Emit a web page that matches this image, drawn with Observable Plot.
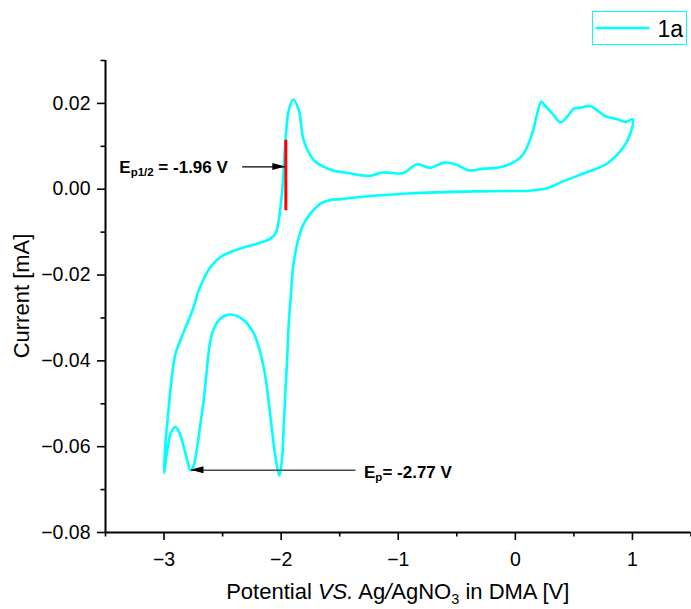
<!DOCTYPE html>
<html>
<head>
<meta charset="utf-8">
<script src="https://cdn.jsdelivr.net/npm/d3@7"></script>
<script src="https://cdn.jsdelivr.net/npm/@observablehq/plot@0.6"></script>
<style>
  body { margin: 0; background: #fff; font-family: "Liberation Sans", Arial, sans-serif; }
  #wrap { position: relative; width: 691px; height: 609px; }
  #legend { position: absolute; left: 591.5px; top: 11px; width: 95px; height: 34px;
            box-sizing: border-box; border: 1px solid #00ffff; background: #fff; }
  #legend svg { display: block; }
</style>
</head>
<body>
<div id="wrap"></div>
<script>
// Cyclic voltammogram of 1a: scan starts at 0 V, runs negative to -3 V,
// back positive to +1 V and returns to 0 V.
const potential = [
  0.01, -0.35, -0.92, -1.32, -1.49, -1.58, -1.66, -1.75, -1.82, -1.89,
  -1.92, -1.935, -1.948, -1.963, -1.977, -1.991, -2.014, -2.048, -2.091, -2.134,
  -2.176, -2.234, -2.319, -2.433, -2.518, -2.575, -2.609, -2.638, -2.661, -2.689,
  -2.717, -2.751, -2.774, -2.802, -2.831, -2.866, -2.902, -2.939, -2.968, -3.0,
  -2.988, -2.959, -2.930, -2.902, -2.860, -2.802, -2.746, -2.703, -2.603, -2.518,
  -2.347, -2.205, -2.091, -2.048, -2.020, -1.991, -1.977, -1.963, -1.935, -1.897,
  -1.849, -1.807, -1.721, -1.636, -1.550, -1.45, -1.251, -1.137, -0.966, -0.924,
  -0.838, -0.725, -0.611, -0.511, -0.398, -0.269, -0.155, -0.070, 0.016, 0.072,
  0.144, 0.187, 0.221, 0.249, 0.315, 0.386, 0.443, 0.499, 0.556, 0.636,
  0.699, 0.770, 0.870, 0.941, 1.0, 0.983, 0.926, 0.784, 0.614, 0.386,
  0.272, 0.101, 0.016
];
const current = [
  -0.0004, -0.0005, -0.0010, -0.0018, -0.0023, -0.0025, -0.0033, -0.0057, -0.0088, -0.0166,
  -0.0259, -0.0313, -0.0391, -0.0469, -0.0546, -0.0624, -0.0667, -0.0624, -0.0531, -0.0438,
  -0.0383, -0.0336, -0.0305, -0.0292, -0.0301, -0.0325, -0.0360, -0.0430, -0.0492, -0.0546,
  -0.0601, -0.0647, -0.0655, -0.0632, -0.0601, -0.0569, -0.0554, -0.0566, -0.0601, -0.0661,
  -0.0593, -0.0507, -0.0430, -0.0383, -0.0352, -0.0313, -0.0274, -0.0235, -0.0181, -0.0158,
  -0.0138, -0.0127, -0.0115, -0.0103, -0.0072, -0.0002, 0.0052, 0.0114, 0.0184, 0.0209,
  0.0184, 0.0114, 0.0068, 0.0052, 0.0043, 0.0039, 0.0031, 0.0039, 0.0037, 0.0043,
  0.0058, 0.0050, 0.0062, 0.0058, 0.0044, 0.0048, 0.0050, 0.0056, 0.0068, 0.0083,
  0.0130, 0.0177, 0.0204, 0.0196, 0.0177, 0.0156, 0.0169, 0.0188, 0.0190, 0.0194,
  0.0184, 0.0170, 0.0163, 0.0157, 0.0163, 0.0130, 0.0099, 0.0060, 0.0040, 0.0016,
  0.0002, -0.0004, -0.0004
];
const seriesNames = ["1a"];

// Axis ticks
const xMajor = [-3, -2, -1, 0, 1];
const xMinor = [-3.5, -2.5, -1.5, -0.5, 0.5, 1.5];
const yMajor = [-0.08, -0.06, -0.04, -0.02, 0.00, 0.02];
const yMinor = [-0.07, -0.05, -0.03, -0.01, 0.01, 0.03];
const xTitle = ["Potential ", "VS.", " Ag", "/", "AgNO", "3", " in DMA [V]"];
const yTitle = "Current [mA]";

// Half-wave potential marker and the pointers to it and to the peak
const halfWave = [{x: -1.96, y1: -0.005, y2: 0.0114}];
const pointers = [
  {x1: -2.333, y1: 0.0052, x2: -1.96, y2: 0.0052, stroke: "#000", w: 1.2},
  {x1: -1.365, y1: -0.0655, x2: -2.77, y2: -0.0655, stroke: "#4a4a4a", w: 1.6}
];
const notes = [
  {x: -3.378, y: 0.00366, sub: "p1/2", rest: " = -1.96 V"},
  {x: -1.288, y: -0.0674, sub: "p", rest: "= -2.77 V"}
];

const rows = potential.map((x, i) => ({x, y: current[i]}));
const font = "'Liberation Sans', Arial, sans-serif";

const chart = Plot.plot({
  width: 691,
  height: 609,
  marginLeft: 105,
  marginRight: 0.5,
  marginTop: 60,
  marginBottom: 77,
  x: {domain: [-3.5, 1.5]},
  y: {domain: [-0.08, 0.03]},
  style: {fontFamily: font, fontSize: "19.5px", color: "#000", background: "#fff"},
  marks: [
    Plot.axisX(xMajor, {tickSize: 8, tickPadding: 12, tickFormat: d3.format("d"), label: null, strokeWidth: 1.6}),
    Plot.axisX(xMinor, {tickSize: 4.5, tickFormat: () => "", label: null, strokeWidth: 1.6}),
    Plot.axisY(yMajor, {tickSize: 8, tickPadding: 7, tickFormat: d3.format(".2f"), label: null, strokeWidth: 1.6}),
    Plot.axisY(yMinor, {tickSize: 4.5, tickFormat: () => "", label: null, strokeWidth: 1.6}),
    Plot.ruleX([-3.5], {stroke: "#000", strokeWidth: 2}),
    Plot.ruleY([-0.08], {stroke: "#000", strokeWidth: 2}),
    Plot.line(rows, {x: "x", y: "y", stroke: "#00ffff", strokeWidth: 2.6, curve: "catmull-rom"}),
    Plot.link(pointers, {x1: "x1", y1: "y1", x2: "x2", y2: "y2", stroke: "stroke", strokeWidth: "w"}),
    Plot.ruleX(halfWave, {x: "x", y1: "y1", y2: "y2", stroke: "#ff0000", strokeWidth: 3})
  ]
});

const sx = chart.scale("x"), sy = chart.scale("y");
const svg = d3.select(chart);

// Filled arrowheads at the tips of the pointers
const hg = svg.append("g").attr("fill", "#000");
for (const p of pointers) {
  const tx = sx.apply(p.x2), ty = sy.apply(p.y2);
  const dir = Math.sign(sx.apply(p.x2) - sx.apply(p.x1));
  const L = 13, H = 3.5;
  hg.append("path").attr("d", `M${tx},${ty}L${tx - dir * L},${ty - H}L${tx - dir * L},${ty + H}Z`);
}

// Potential annotations with subscripts
const ng = svg.append("g").attr("font-family", font).attr("font-weight", "bold")
  .attr("font-size", 17).attr("fill", "#000").attr("text-anchor", "start").style("white-space", "pre");
for (const n of notes) {
  const t = ng.append("text").attr("x", sx.apply(n.x)).attr("y", sy.apply(n.y));
  t.append("tspan").text("E");
  t.append("tspan").attr("font-size", 11.5).attr("dy", 3).text(n.sub);
  t.append("tspan").attr("dy", -3).text(n.rest);
}

// Axis titles
const [x0, x1] = sx.range, [yb, yt] = sy.range;
const tg = svg.append("g").attr("font-family", font).attr("font-size", 22).attr("fill", "#000")
  .attr("text-anchor", "middle").style("white-space", "pre");
tg.append("text")
  .attr("transform", `translate(28.5,${(yb + yt) / 2}) rotate(-90)`)
  .text(yTitle);
const xt = tg.append("text").attr("x", (x0 + x1) / 2).attr("y", yb + 66.5);
xt.append("tspan").text(xTitle[0]);
xt.append("tspan").attr("font-style", "italic").text(xTitle[1]);
xt.append("tspan").text(xTitle[2]);
xt.append("tspan").attr("font-style", "italic").text(xTitle[3]);
xt.append("tspan").text(xTitle[4]);
xt.append("tspan").attr("font-size", 14.5).attr("dy", 5).text(xTitle[5]);
xt.append("tspan").attr("dy", -5).text(xTitle[6]);

const wrap = document.getElementById("wrap");
wrap.appendChild(chart);

// Legend box
const legend = document.createElement("div");
legend.id = "legend";
wrap.appendChild(legend);
const lg = d3.select(legend).append("svg").attr("width", 93).attr("height", 32);
lg.append("line").attr("x1", 2.5).attr("x2", 56.5).attr("y1", 16).attr("y2", 16)
  .attr("stroke", "#00ffff").attr("stroke-width", 2.6);
lg.append("text").attr("x", 64.5).attr("y", 24.5).attr("font-family", font)
  .attr("font-size", 23).attr("fill", "#000").text(seriesNames[0]);
</script>
</body>
</html>
